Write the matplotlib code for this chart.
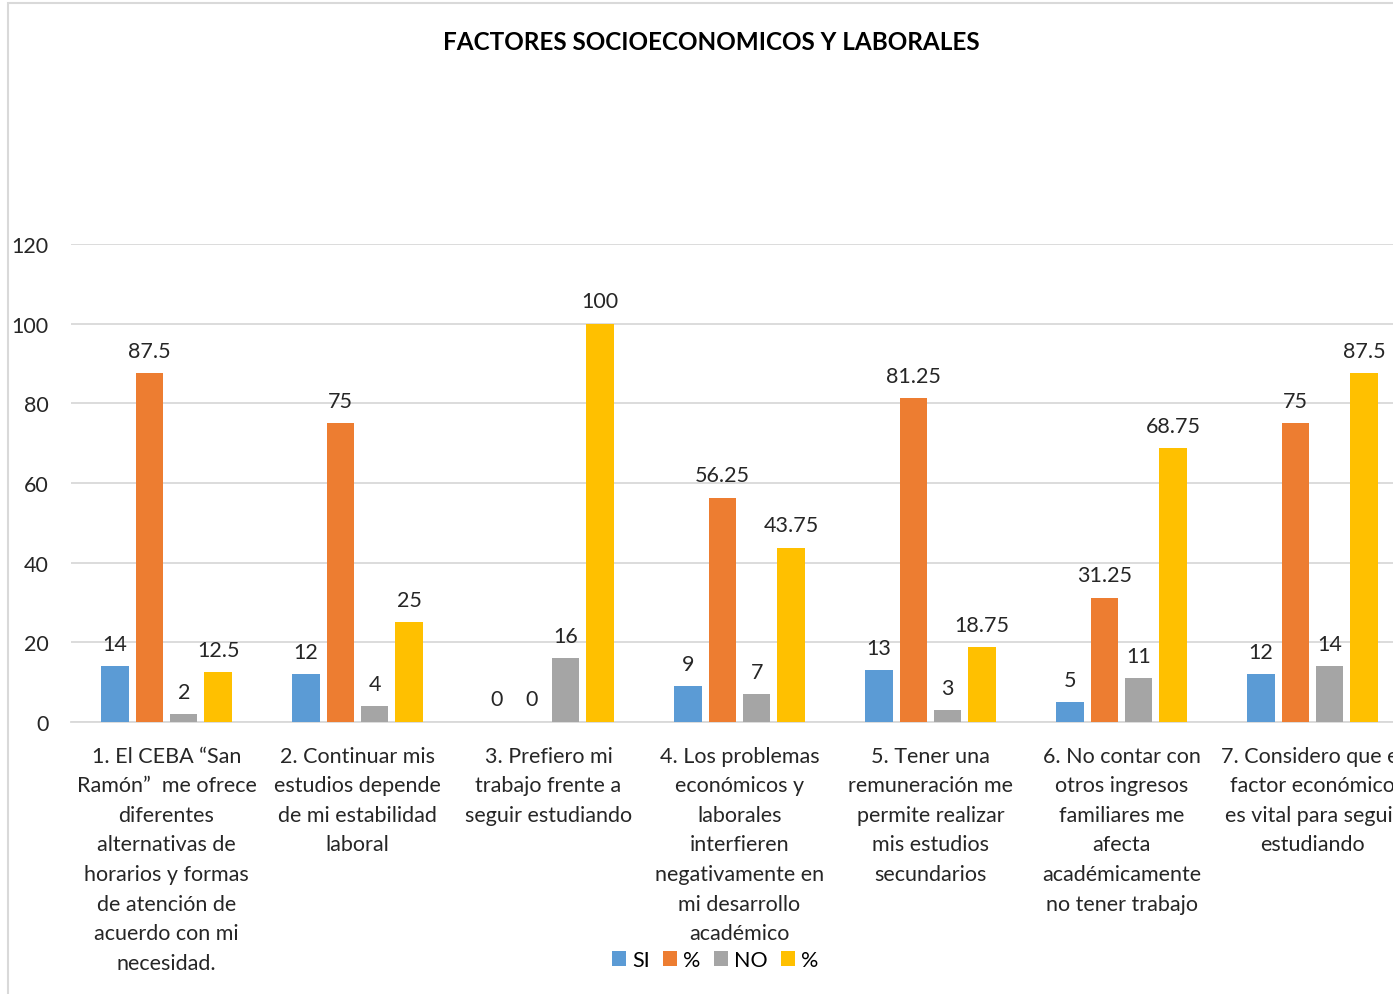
import matplotlib.pyplot as plt
import numpy as np
from matplotlib.patches import Rectangle

plt.rcParams['font.family'] = ['Lato', 'DejaVu Sans']

# chart data
categories = [
    "1. El CEBA \u201cSan\nRam\u00f3n\u201d  me ofrece\ndiferentes\nalternativas de\nhorarios y formas\nde atenci\u00f3n de\nacuerdo con mi\nnecesidad.",
    "2. Continuar mis\nestudios depende\nde mi estabilidad\nlaboral",
    "3. Prefiero mi\ntrabajo frente a\nseguir estudiando",
    "4. Los problemas\necon\u00f3micos y\nlaborales\ninterfieren\nnegativamente en\nmi desarrollo\nacad\u00e9mico",
    "5. Tener una\nremuneraci\u00f3n me\npermite realizar\nmis estudios\nsecundarios",
    "6. No contar con\notros ingresos\nfamiliares me\nafecta\nacad\u00e9micamente\nno tener trabajo",
    "7. Considero que el\nfactor econ\u00f3mico\nes vital para seguir\nestudiando",
]
si_values = [14, 12, 0, 9, 13, 5, 12]
si_pct = [87.5, 75, 0, 56.25, 81.25, 31.25, 75]
no_values = [2, 4, 16, 7, 3, 11, 14]
no_pct = [12.5, 25, 100, 43.75, 18.75, 68.75, 87.5]

series = [
    ("SI", si_values, "#5B9BD5"),
    ("%", si_pct, "#ED7D31"),
    ("NO", no_values, "#A5A5A5"),
    ("%", no_pct, "#FFC000"),
]

fig = plt.figure(figsize=(13.93, 9.95), dpi=100)
# chart area border (runs off the right/bottom edge like the source)
fig.patches.append(Rectangle((8 / 1393, -0.1), 1.2, 1 - 4 / 995 + 0.1,
                             transform=fig.transFigure, fill=False,
                             edgecolor="#D9D9D9", linewidth=1.5))

ax = fig.add_axes([71 / 1393, 1 - 723 / 995, 1337 / 1393, 478 / 995])

x = np.arange(len(categories))
step = 0.18
bar_w = 0.143
for i, (name, vals, color) in enumerate(series):
    pos = x + (i - 1.5) * step
    ax.bar(pos, vals, width=bar_w, color=color, label=name, zorder=3)
    for p, v in zip(pos, vals):
        ax.annotate(f"{v:g}", (p, v), xytext=(0, 9), textcoords="offset points",
                    ha="center", va="bottom", fontsize=15.5, color="#262626")

ax.set_xlim(-0.5, len(categories) - 0.5)
ax.set_ylim(0, 120)
ax.set_yticks(range(0, 121, 20))
ax.grid(True, axis="y", color="#D9D9D9", linewidth=1.3, zorder=0)
ax.set_axisbelow(True)
for s in ["top", "right", "left"]:
    ax.spines[s].set_visible(False)
ax.spines["bottom"].set_color("#D9D9D9")
ax.spines["bottom"].set_linewidth(1.3)
ax.tick_params(axis="both", length=0, labelsize=15.5, labelcolor="#262626")
ax.tick_params(axis="y", pad=16)
ax.tick_params(axis="x", pad=17)
ax.set_xticks(x)
ax.set_xticklabels(categories, linespacing=1.6)

fig.text(711 / 1393, 1 - 43 / 995, "FACTORES SOCIOECONOMICOS Y LABORALES",
         ha="center", va="center", fontsize=17.5, fontweight="bold", color="#000000")

fig.legend(loc="center", bbox_to_anchor=(715 / 1393, 1 - 961 / 995), ncol=4,
           frameon=False, fontsize=15.5, handlelength=0.65, handleheight=0.65,
           handletextpad=0.3, columnspacing=0.6, borderaxespad=0)

fig.savefig("out.png", dpi=100)
